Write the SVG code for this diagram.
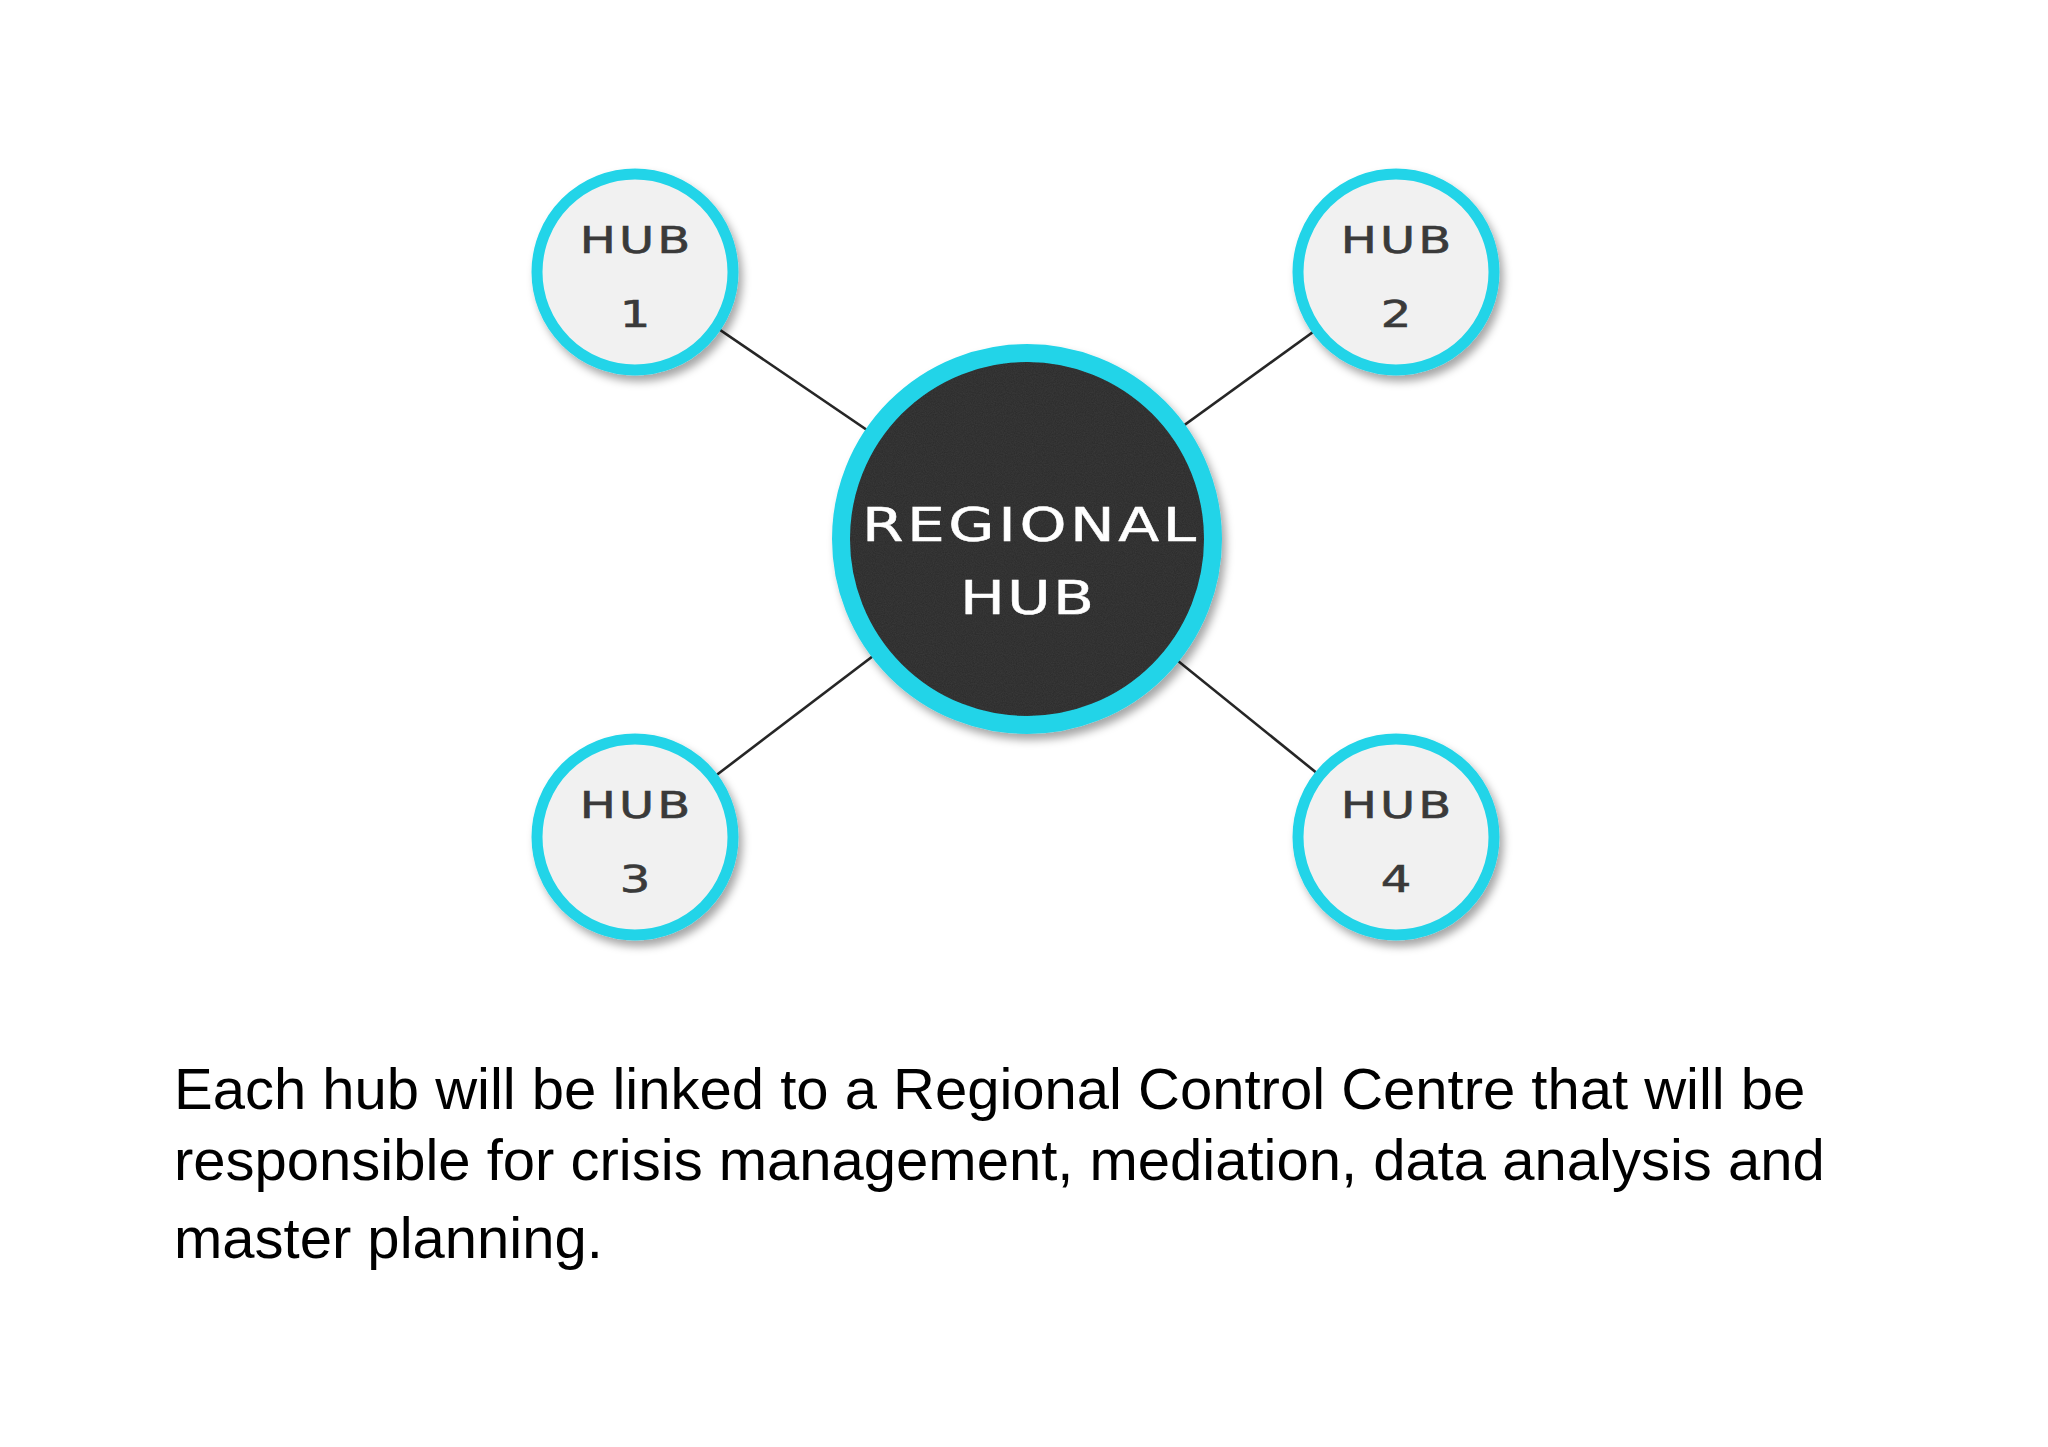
<svg xmlns="http://www.w3.org/2000/svg" width="2048" height="1447" viewBox="0 0 2048 1447">
<style>
.hub-fill{fill:#f1f1f1;stroke:#22d4e8;stroke-width:11}
.reg-fill{fill:#3a3a3a;stroke:#22d4e8;stroke-width:18}
.hub-t{font-family:"DejaVu Sans",sans-serif;font-size:37px;fill:#3a3a3a;text-anchor:middle;stroke:#3a3a3a;stroke-width:0.6}
.reg-t{font-family:"DejaVu Sans",sans-serif;font-size:46px;fill:#ffffff;text-anchor:middle;stroke:#ffffff;stroke-width:0.5}
.body{font-family:"Liberation Sans",Arial,sans-serif;font-size:58px;fill:#000000}
.link{stroke:#262626;stroke-width:2.6;fill:none}
</style>
<defs>
<filter id="shadow" x="-20%" y="-20%" width="150%" height="150%">
<feDropShadow dx="4" dy="6" stdDeviation="4" flood-color="#000" flood-opacity="0.35"/>
</filter>
<filter id="grain" x="0" y="0" width="100%" height="100%">
<feTurbulence type="fractalNoise" baseFrequency="0.9" numOctaves="2" seed="3" result="n"/>
<feColorMatrix in="n" type="matrix" values="0 0 0 0 0  0 0 0 0 0  0 0 0 0 0  0 0 0 0.3 0" result="a"/>
<feComposite in="a" in2="SourceGraphic" operator="in"/>
</filter>
</defs>
<rect width="2048" height="1447" fill="#ffffff"/>
<g id="connectors">
<line class="link" x1="635" y1="272" x2="1027" y2="539"/>
<line class="link" x1="1396" y1="272" x2="1027" y2="539"/>
<line class="link" x1="635" y1="837" x2="1027" y2="539"/>
<line class="link" x1="1396" y1="837" x2="1027" y2="539"/>
</g>
<g id="regional-hub">
<circle class="reg-fill" cx="1027" cy="539" r="186" filter="url(#shadow)"/>
<circle cx="1027" cy="539" r="177" fill="#3a3a3a" filter="url(#grain)"/>
<text class="reg-t" transform="translate(1029 541) scale(1.3 1)" textLength="257" lengthAdjust="spacing">REGIONAL</text>
<text class="reg-t" transform="translate(1027 614) scale(1.3 1)" textLength="103" lengthAdjust="spacing">HUB</text>
</g>
<g id="hub-1">
<circle class="hub-fill" cx="635" cy="272" r="98" filter="url(#shadow)"/>
<text class="hub-t" transform="translate(635 253) scale(1.3 1)" textLength="85" lengthAdjust="spacing">HUB</text>
<text class="hub-t" transform="translate(635 327) scale(1.3 1)">1</text>
</g>
<g id="hub-2">
<circle class="hub-fill" cx="1396" cy="272" r="98" filter="url(#shadow)"/>
<text class="hub-t" transform="translate(1396 253) scale(1.3 1)" textLength="85" lengthAdjust="spacing">HUB</text>
<text class="hub-t" transform="translate(1396 327) scale(1.3 1)">2</text>
</g>
<g id="hub-3">
<circle class="hub-fill" cx="635" cy="837" r="98" filter="url(#shadow)"/>
<text class="hub-t" transform="translate(635 818) scale(1.3 1)" textLength="85" lengthAdjust="spacing">HUB</text>
<text class="hub-t" transform="translate(635 892) scale(1.3 1)">3</text>
</g>
<g id="hub-4">
<circle class="hub-fill" cx="1396" cy="837" r="98" filter="url(#shadow)"/>
<text class="hub-t" transform="translate(1396 818) scale(1.3 1)" textLength="85" lengthAdjust="spacing">HUB</text>
<text class="hub-t" transform="translate(1396 892) scale(1.3 1)">4</text>
</g>
<g id="caption">
<text class="body" x="174" y="1109">Each hub will be linked to a Regional Control Centre that will be</text>
<text class="body" x="174" y="1180">responsible for crisis management, mediation, data analysis and</text>
<text class="body" x="174" y="1258">master planning.</text>
</g>
</svg>
